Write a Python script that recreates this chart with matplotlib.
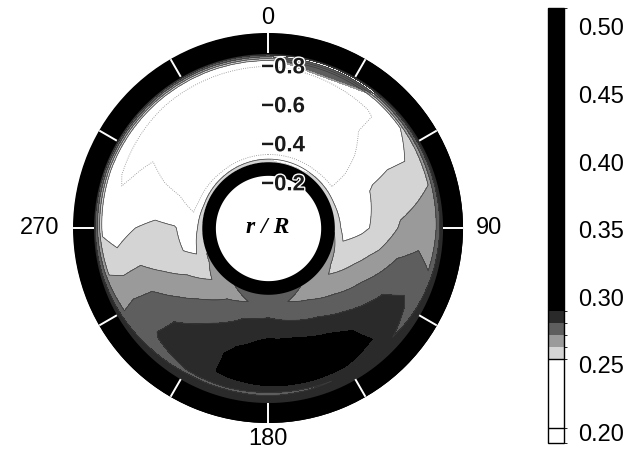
import numpy as np
import matplotlib
matplotlib.use("Agg")
import matplotlib.pyplot as plt
import matplotlib.patheffects as pe
from matplotlib.colors import ListedColormap, BoundaryNorm

plt.rcParams['font.family'] = ['Liberation Sans', 'DejaVu Sans']

# angular stations (deg, clockwise from the top) and radial stations r/R
theta_deg = [0, 40, 70, 90, 105, 120, 135, 150, 165, 180, 195, 210, 225, 240, 255, 270, 290, 320]
r_stations = [0.34, 0.39, 0.48, 0.58, 0.68, 0.78, 0.85, 0.895, 1.0]

# field values, one row per angle, one column per radius
field = [
    [0.262, 0.232, 0.226, 0.222, 0.222, 0.226, 0.246, 0.288, 0.300],  # 0
    [0.262, 0.236, 0.232, 0.232, 0.238, 0.238, 0.248, 0.288, 0.300],  # 40
    [0.262, 0.243, 0.248, 0.256, 0.258, 0.258, 0.262, 0.288, 0.300],  # 70
    [0.262, 0.250, 0.252, 0.257, 0.264, 0.268, 0.266, 0.288, 0.300],  # 90
    [0.266, 0.256, 0.260, 0.265, 0.273, 0.275, 0.272, 0.288, 0.300],  # 105
    [0.268, 0.260, 0.266, 0.274, 0.281, 0.283, 0.278, 0.288, 0.300],  # 120
    [0.270, 0.266, 0.272, 0.280, 0.287, 0.289, 0.282, 0.288, 0.300],  # 135
    [0.272, 0.269, 0.277, 0.286, 0.295, 0.297, 0.282, 0.288, 0.300],  # 150
    [0.274, 0.272, 0.280, 0.290, 0.298, 0.299, 0.280, 0.288, 0.300],  # 165
    [0.275, 0.274, 0.283, 0.291, 0.299, 0.298, 0.279, 0.288, 0.300],  # 180
    [0.274, 0.272, 0.281, 0.288, 0.292, 0.292, 0.280, 0.288, 0.300],  # 195
    [0.272, 0.270, 0.276, 0.282, 0.285, 0.286, 0.280, 0.288, 0.300],  # 210
    [0.268, 0.264, 0.270, 0.276, 0.281, 0.282, 0.278, 0.288, 0.300],  # 225
    [0.264, 0.258, 0.263, 0.268, 0.273, 0.274, 0.272, 0.288, 0.300],  # 240
    [0.262, 0.252, 0.255, 0.258, 0.262, 0.260, 0.262, 0.288, 0.300],  # 255
    [0.260, 0.246, 0.255, 0.257, 0.254, 0.248, 0.252, 0.288, 0.300],  # 270
    [0.258, 0.236, 0.240, 0.242, 0.244, 0.238, 0.246, 0.288, 0.300],  # 290
    [0.260, 0.230, 0.226, 0.226, 0.232, 0.232, 0.246, 0.288, 0.300],  # 320
]

levels = [0.192, 0.203, 0.254, 0.263, 0.272, 0.281, 0.290, 0.514]
band_colors = ['white', 'white', '#d4d4d4', '#9a9a9a', '#5e5e5e', '#2a2a2a', 'black']
cbar_ticks = [0.20, 0.25, 0.30, 0.35, 0.40, 0.45, 0.50]
angle_ticks = [0, 90, 180, 270]
radial_labels = [0.8, 0.6, 0.4, 0.2]

# geometry of the walls (r/R)
R_HUB_IN, R_HUB_OUT = 0.27, 0.34
R_WALL_IN, R_WALL_OUT = 0.895, 1.0

fig = plt.figure(figsize=(6.44, 4.50), dpi=100)
ax = fig.add_axes([0.1134, 0.06, 0.6056, 0.8667], projection='polar')
ax.set_theta_zero_location('N')
ax.set_theta_direction(-1)

# close the field around the circle
th = np.deg2rad(np.append(theta_deg, 360))
vals = np.array(field)
vals = np.vstack([vals, vals[:1]])
T, Rr = np.meshgrid(th, r_stations, indexing='ij')

cmap = ListedColormap(band_colors)
norm = BoundaryNorm(levels, cmap.N)
cf = ax.contourf(T, Rr, vals, levels=levels, cmap=cmap, norm=norm)
cl = ax.contour(T, Rr, vals, levels=levels[2:6], colors='#3a3a3a', linewidths=0.5)
cd = ax.contour(T, Rr, vals, levels=[0.240], colors='#8a8a8a', linewidths=0.6, linestyles=':')
# let the polar transform bend the contour edges along the arcs
for cs in (cf, cl, cd):
    for p in cs.get_paths():
        p._interpolation_steps = 12

# black walls
ring = np.linspace(0, 2 * np.pi, 361)
ax.fill_between(ring, R_WALL_IN, R_WALL_OUT, color='black', lw=0, zorder=3)
ax.fill_between(ring, R_HUB_IN, R_HUB_OUT, color='black', lw=0, zorder=3)

# white tick marks across the outer wall
for a in range(0, 360, 30):
    ax.plot([np.deg2rad(a)] * 2, [R_WALL_IN, R_WALL_OUT], color='white', lw=1.4,
            solid_capstyle='butt', zorder=4)

ax.set_ylim(0, 1.0)
ax.set_yticks([])
ax.set_xticks([])
ax.grid(False)
ax.spines['polar'].set_visible(False)

# angle labels just outside the wall
label_offsets = {0: (0, 15, 'center'), 90: (13, 0, 'left'),
                 180: (0, -16, 'center'), 270: (-14, 0, 'right')}
for a in angle_ticks:
    dx, dy, ha = label_offsets[a]
    ax.annotate(str(a), xy=(np.deg2rad(a), R_WALL_OUT), xytext=(dx, dy),
                textcoords='offset pixels', ha=ha, va='center', fontsize=17,
                annotation_clip=False)

for v in radial_labels:
    ax.annotate('\u2212%.1f' % v, xy=(0, v), xytext=(-5, 3), textcoords='offset points',
                ha='left', va='center', fontsize=16, fontweight='bold', color='#1a1a1a',
                path_effects=[pe.withStroke(linewidth=2.0, foreground='white')], zorder=5)

ax.text(0, 0, 'r / R', ha='center', va='center', fontsize=17,
        family='Liberation Serif', fontweight='bold', fontstyle='italic')

cax = fig.add_axes([0.851, 0.0156, 0.0248, 0.9666])
cb = fig.colorbar(cf, cax=cax, ticks=cbar_ticks, spacing='proportional')
cb.ax.set_yticklabels(['%.2f' % t for t in cbar_ticks])
cb.ax.tick_params(length=0, pad=10, labelsize=17)
cb.outline.set_linewidth(1.0)
for b in levels[1:3]:
    cax.axhline(b, color='black', lw=1.0)

fig.savefig('out.png', dpi=100)
